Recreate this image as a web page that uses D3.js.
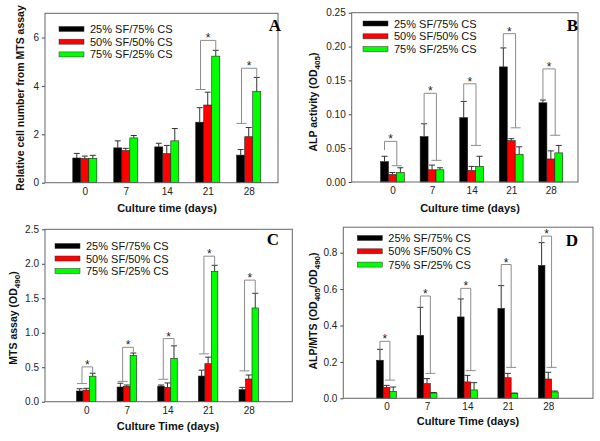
<!DOCTYPE html>
<html>
<head>
<meta charset="utf-8">
<script src="https://cdn.jsdelivr.net/npm/d3@7"></script>
<style>
  body { margin: 0; background: #fff; }
  svg { display: block; font-family: "Liberation Sans", Arial, sans-serif; }
</style>
</head>
<body>
<script>
// culture days and the three scaffold groups
var days = [0, 7, 14, 21, 28];
var seriesNames = ["25% SF/75% CS", "50% SF/50% CS", "75% SF/25% CS"];
var seriesColors = ["#000000", "#ff0000", "#00ff00"];

// A - relative cell number (mean, and top of the error bar)
var cellBlack = [1.02, 1.44, 1.48, 2.50, 1.14];
var cellBlackErr = [1.21, 1.73, 1.63, 3.10, 1.37];
var cellRed = [1.00, 1.33, 1.20, 3.21, 1.90];
var cellRedErr = [1.10, 1.42, 1.54, 3.74, 2.28];
var cellGreen = [1.01, 1.85, 1.73, 5.23, 3.77];
var cellGreenErr = [1.13, 1.95, 2.24, 5.47, 4.35];
var cellSigDays = [21, 28];
var cellSigTop = [5.88, 4.73];
var cellSigLeft = [3.85, 2.45];
var cellSigRight = [5.47, 4.35];

// B - ALP activity
var alpBlack = [0.030, 0.067, 0.095, 0.170, 0.117];
var alpBlackErr = [0.038, 0.086, 0.119, 0.198, 0.121];
var alpRed = [0.011, 0.018, 0.017, 0.061, 0.034];
var alpRedErr = [0.014, 0.025, 0.023, 0.064, 0.046];
var alpGreen = [0.014, 0.018, 0.023, 0.041, 0.043];
var alpGreenErr = [0.021, 0.021, 0.038, 0.052, 0.054];
var alpSigDays = [0, 7, 14, 21, 28];
var alpSigTop = [0.060, 0.131, 0.145, 0.219, 0.167];
var alpSigLeft = [0.047, 0.086, 0.119, 0.198, 0.121];
var alpSigRight = [0.024, 0.032, 0.054, 0.080, 0.069];

// C - MTS assay
var mtsBlack = [0.155, 0.213, 0.225, 0.372, 0.175];
var mtsBlackErr = [0.188, 0.268, 0.242, 0.457, 0.208];
var mtsRed = [0.168, 0.223, 0.208, 0.551, 0.329];
var mtsRedErr = [0.194, 0.242, 0.272, 0.646, 0.387];
var mtsGreen = [0.370, 0.672, 0.627, 1.890, 1.359];
var mtsGreenErr = [0.413, 0.706, 0.810, 1.978, 1.572];
var mtsSigDays = [0, 7, 14, 21, 28];
var mtsSigTop = [0.505, 0.789, 0.915, 2.110, 1.763];
var mtsSigLeft = [0.263, 0.295, 0.325, 0.693, 0.447];
var mtsSigRight = [0.413, 0.706, 0.810, 1.978, 1.572];

// D - ALP/MTS ratio
var ratioBlack = [0.209, 0.346, 0.447, 0.494, 0.730];
var ratioBlackErr = [0.269, 0.500, 0.546, 0.619, 0.855];
var ratioRed = [0.060, 0.081, 0.090, 0.113, 0.106];
var ratioRedErr = [0.071, 0.108, 0.126, 0.137, 0.143];
var ratioGreen = [0.038, 0.029, 0.046, 0.026, 0.035];
var ratioGreenErr = [0.062, 0.032, 0.086, 0.029, 0.040];
var ratioSigDays = [0, 7, 14, 21, 28];
var ratioSigTop = [0.313, 0.562, 0.604, 0.735, 0.891];
var ratioSigLeft = [0.269, 0.500, 0.546, 0.619, 0.855];
var ratioSigRight = [0.100, 0.137, 0.152, 0.170, 0.170];

var svg = d3.select("body").append("svg")
  .attr("width", 600)
  .attr("height", 441);

svg.append("rect").attr("width", 600).attr("height", 441).attr("fill", "#fff");

function drawPanel(p) {
  var x = d3.scaleLinear().domain(p.xDomain).range([p.left, p.right]);
  var y = d3.scaleLinear().domain(p.yDomain).range([p.bottom, p.top]);
  var bw = x(p.barDays) - x(0);
  var g = svg.append("g");

  // y axis ticks
  var yAxis = g.append("g")
    .attr("transform", "translate(" + p.left + ",0)")
    .call(d3.axisLeft(y).tickValues(p.ticks).tickFormat(d3.format(p.fmt)).tickSize(3).tickPadding(3));
  yAxis.select(".domain").remove();
  yAxis.selectAll("line").attr("stroke", "#444");
  yAxis.selectAll("text").attr("font-size", 10).attr("fill", "#222")
    .attr("font-family", "Liberation Sans, Arial, sans-serif");

  // x tick labels
  var xAxis = g.append("g")
    .attr("transform", "translate(0," + p.bottom + ")")
    .call(d3.axisBottom(x).tickValues(days).tickSize(0).tickPadding(5));
  xAxis.select(".domain").remove();
  xAxis.selectAll("text").attr("font-size", 10).attr("fill", "#222")
    .attr("font-family", "Liberation Sans, Arial, sans-serif");

  // bars and error bars
  p.means.forEach(function(vals, s) {
    var errs = p.errs[s];
    days.forEach(function(d, i) {
      var bx = x(d) - 1.5 * bw + s * bw;
      g.append("rect")
        .attr("x", bx)
        .attr("y", y(vals[i]))
        .attr("width", bw)
        .attr("height", y(0) - y(vals[i]))
        .attr("fill", seriesColors[s])
        .attr("stroke", "#222")
        .attr("stroke-width", 0.6);
      var cx = bx + bw / 2;
      g.append("line")
        .attr("x1", cx).attr("x2", cx)
        .attr("y1", y(vals[i])).attr("y2", y(errs[i]))
        .attr("stroke", "#333").attr("stroke-width", 1);
      g.append("line")
        .attr("x1", cx - 3).attr("x2", cx + 3)
        .attr("y1", y(errs[i])).attr("y2", y(errs[i]))
        .attr("stroke", "#333").attr("stroke-width", 1);
    });
  });

  // significance brackets
  p.sigDays.forEach(function(d, i) {
    var xl = x(d) - bw + p.legShift[0] * bw;
    var xr = x(d) + bw + p.legShift[1] * bw;
    var yt = y(p.sigTop[i]);
    var yl = y(p.sigLeft[i]);
    var yr = y(p.sigRight[i]);
    g.append("path")
      .attr("d", "M" + xl + "," + yl + "V" + yt + "H" + xr + "V" + yr)
      .attr("fill", "none")
      .attr("stroke", "#8c8c8c")
      .attr("stroke-width", 1);
    var capX = (yl > yr) ? xl : xr;
    var capY = Math.max(yl, yr);
    g.append("line")
      .attr("x1", capX - 5).attr("x2", capX + 5)
      .attr("y1", capY).attr("y2", capY)
      .attr("stroke", "#8c8c8c").attr("stroke-width", 1);
    g.append("text")
      .attr("x", (xl + xr) / 2)
      .attr("y", yt + 2)
      .attr("text-anchor", "middle")
      .attr("font-size", 12)
      .attr("fill", "#222")
      .text("*");
  });

  // plot frame
  g.append("rect")
    .attr("x", p.left).attr("y", p.top)
    .attr("width", p.right - p.left).attr("height", p.bottom - p.top)
    .attr("fill", "none").attr("stroke", "#666").attr("stroke-width", 1);

  // legend
  seriesNames.forEach(function(name, s) {
    var ly = p.legendY + s * p.legendStep;
    g.append("rect")
      .attr("x", p.legendX).attr("y", ly - 2.5)
      .attr("width", 25).attr("height", 5)
      .attr("fill", seriesColors[s])
      .attr("stroke", "#333").attr("stroke-width", 0.5);
    g.append("text")
      .attr("x", p.legendX + 31).attr("y", ly + 4)
      .attr("font-size", 11).attr("fill", "#111")
      .text(name);
  });

  // panel letter
  g.append("text")
    .attr("x", p.letterX).attr("y", p.letterY)
    .attr("text-anchor", "end")
    .attr("font-family", "Liberation Serif, Times New Roman, serif")
    .attr("font-weight", "bold")
    .attr("font-size", 17)
    .text(p.letter);

  // axis titles
  g.append("text")
    .attr("x", p.xLabelX).attr("y", p.xLabelY)
    .attr("text-anchor", "middle")
    .attr("font-weight", "bold")
    .attr("font-size", 11)
    .attr("fill", "#111")
    .text(p.xLabel);

  var yl = g.append("text")
    .attr("transform", "translate(" + p.yLabelX + "," + p.yLabelY + ") rotate(-90)")
    .attr("text-anchor", "middle")
    .attr("font-weight", "bold")
    .attr("font-size", 10.5)
    .attr("fill", "#111");
  p.yLabel.forEach(function(part) {
    if (part.sub) {
      yl.append("tspan").attr("font-size", 8).attr("dy", 2.5).text(part.t);
    } else {
      yl.append("tspan").attr("dy", part.after ? -2.5 : 0).text(part.t);
    }
  });
}

drawPanel({
  left: 45, right: 278, top: 13.3, bottom: 182.7,
  xDomain: [-6.8, 33], yDomain: [0, 7], barDays: 1.37,
  ticks: [0, 2, 4, 6], fmt: "d",
  means: [cellBlack, cellRed, cellGreen],
  errs: [cellBlackErr, cellRedErr, cellGreenErr],
  sigDays: cellSigDays, sigTop: cellSigTop, sigLeft: cellSigLeft, sigRight: cellSigRight,
  legShift: [0.1, 0],
  legendX: 59, legendY: 29, legendStep: 12.7,
  letter: "A", letterX: 281, letterY: 31,
  xLabel: "Culture time (days)", xLabelX: 167, xLabelY: 212,
  yLabel: [{t: "Relative cell number from MTS assay"}], yLabelX: 24, yLabelY: 98
});

drawPanel({
  left: 351.7, right: 578, top: 12.7, bottom: 182,
  xDomain: [-7.2, 32.8], yDomain: [0, 0.25], barDays: 1.4,
  ticks: [0, 0.05, 0.1, 0.15, 0.2, 0.25], fmt: ".2f",
  means: [alpBlack, alpRed, alpGreen],
  errs: [alpBlackErr, alpRedErr, alpGreenErr],
  sigDays: alpSigDays, sigTop: alpSigTop, sigLeft: alpSigLeft, sigRight: alpSigRight,
  legShift: [0, -0.45],
  legendX: 363, legendY: 23.5, legendStep: 12.8,
  letter: "B", letterX: 578, letterY: 31,
  xLabel: "Culture time (days)", xLabelX: 470, xLabelY: 212,
  yLabel: [{t: "ALP activity (OD"}, {t: "405", sub: true}, {t: ")", after: true}], yLabelX: 317, yLabelY: 102
});

drawPanel({
  left: 45, right: 292.3, top: 229.3, bottom: 401.7,
  xDomain: [-7.1, 35.5], yDomain: [0, 2.5], barDays: 1.12,
  ticks: [0, 0.5, 1, 1.5, 2, 2.5], fmt: ".1f",
  means: [mtsBlack, mtsRed, mtsGreen],
  errs: [mtsBlackErr, mtsRedErr, mtsGreenErr],
  sigDays: mtsSigDays, sigTop: mtsSigTop, sigLeft: mtsSigLeft, sigRight: mtsSigRight,
  legShift: [0.35, 0],
  legendX: 55, legendY: 246, legendStep: 12.5,
  letter: "C", letterX: 279, letterY: 245,
  xLabel: "Culture Time (days)", xLabelX: 168, xLabelY: 430,
  yLabel: [{t: "MTS assay (OD"}, {t: "490", sub: true}, {t: ")", after: true}], yLabelX: 17, yLabelY: 318
});

drawPanel({
  left: 343.3, right: 593, top: 227.2, bottom: 398.3,
  xDomain: [-7.5, 35.75], yDomain: [0, 0.94], barDays: 1.15,
  ticks: [0, 0.2, 0.4, 0.6, 0.8], fmt: ".1f",
  means: [ratioBlack, ratioRed, ratioGreen],
  errs: [ratioBlackErr, ratioRedErr, ratioGreenErr],
  sigDays: ratioSigDays, sigTop: ratioSigTop, sigLeft: ratioSigLeft, sigRight: ratioSigRight,
  legShift: [0, -0.5],
  legendX: 357.3, legendY: 238, legendStep: 13.3,
  letter: "D", letterX: 578, letterY: 245.5,
  xLabel: "Culture Time (days)", xLabelX: 468, xLabelY: 425,
  yLabel: [{t: "ALP/MTS (OD"}, {t: "405", sub: true}, {t: "/OD", after: true}, {t: "490", sub: true}, {t: ")", after: true}],
  yLabelX: 317, yLabelY: 311
});
</script>
</body>
</html>
